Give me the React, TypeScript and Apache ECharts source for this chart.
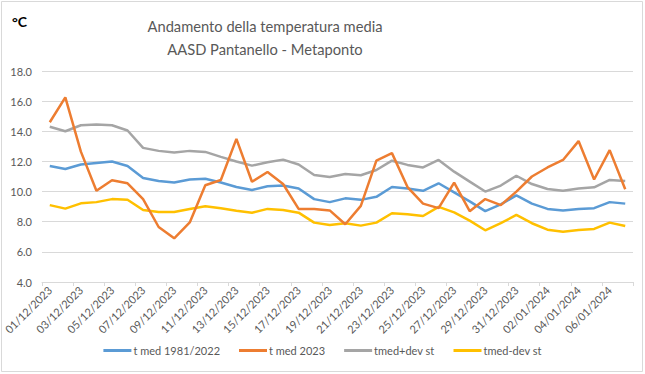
import React, { useEffect, useRef } from "react";
import * as echarts from "echarts";

const dates = [
  "01/12/2023","02/12/2023","03/12/2023","04/12/2023","05/12/2023","06/12/2023","07/12/2023","08/12/2023",
  "09/12/2023","10/12/2023","11/12/2023","12/12/2023","13/12/2023","14/12/2023","15/12/2023","16/12/2023",
  "17/12/2023","18/12/2023","19/12/2023","20/12/2023","21/12/2023","22/12/2023","23/12/2023","24/12/2023",
  "25/12/2023","26/12/2023","27/12/2023","28/12/2023","29/12/2023","30/12/2023","31/12/2023","01/01/2024",
  "02/01/2024","03/01/2024","04/01/2024","05/01/2024","06/01/2024","07/01/2024",
];

const tMedClim = [
  11.7, 11.5, 11.8, 11.9, 12.0, 11.7, 10.9, 10.7, 10.6, 10.8, 10.85, 10.6, 10.3, 10.1, 10.35, 10.4,
  10.2, 9.5, 9.3, 9.55, 9.45, 9.65, 10.3, 10.2, 10.05, 10.55, 9.95, 9.35, 8.7, 9.15, 9.75, 9.2,
  8.85, 8.75, 8.85, 8.9, 9.3, 9.2,
];

const tMed2023 = [
  14.6, 16.25, 12.65, 10.05, 10.75, 10.55, 9.5, 7.65, 6.9, 7.95, 10.42, 10.77, 13.5, 10.65, 11.3, 10.5,
  8.85, 8.85, 8.75, 7.83, 9.05, 12.05, 12.55, 10.3, 9.2, 8.9, 10.6, 8.7, 9.5, 9.1, 10.0, 11.0,
  11.6, 12.1, 13.35, 10.8, 12.75, 10.15,
];

const tPlusDev = [
  14.3, 14.0, 14.4, 14.45, 14.4, 14.05, 12.9, 12.7, 12.6, 12.7, 12.63, 12.3, 12.0, 11.72, 11.94, 12.12,
  11.8, 11.1, 10.97, 11.17, 11.08, 11.43, 12.05, 11.77, 11.6, 12.1, 11.32, 10.66, 10.0, 10.4, 11.05, 10.5,
  10.17, 10.06, 10.2, 10.28, 10.77, 10.7,
];

const tMinusDev = [
  9.1, 8.87, 9.22, 9.3, 9.5, 9.46, 8.78, 8.65, 8.65, 8.85, 9.02, 8.9, 8.73, 8.6, 8.85, 8.78,
  8.6, 7.94, 7.78, 7.9, 7.74, 7.94, 8.56, 8.5, 8.38, 8.98, 8.62, 8.07, 7.43, 7.9, 8.45, 7.9,
  7.47, 7.34, 7.45, 7.52, 7.94, 7.72,
];

const seriesNames = ["t med 1981/2022", "t med 2023", "tmed+dev st", "tmed-dev st"];
const seriesColors = ["#5b9bd5", "#ed7d31", "#a5a5a5", "#ffc000"];

const FONT = "Lato, 'Noto Sans', sans-serif";

export default function App() {
  const ref = useRef<HTMLDivElement>(null);

  useEffect(() => {
    if (!ref.current) return;
    const chart = echarts.init(ref.current, undefined, { renderer: "svg" });
    const data = [tMedClim, tMed2023, tPlusDev, tMinusDev];
    chart.setOption({
      animation: false,
      backgroundColor: "#ffffff",
      textStyle: { fontFamily: FONT },
      title: {
        text: "Andamento della temperatura media\nAASD Pantanello - Metaponto",
        left: 260,
        top: 9,
        textAlign: "center",
        textStyle: {
          fontFamily: FONT,
          fontSize: 14.7,
          fontWeight: "normal",
          color: "#595959",
          lineHeight: 23,
        },
      },
      graphic: [
        {
          type: "rect",
          shape: { x: 1.5, y: 1.5, width: 641, height: 370 },
          style: { fill: "none", stroke: "#d9d9d9", lineWidth: 1 },
          silent: true,
        },
        {
          type: "text",
          left: 12,
          top: 14,
          style: {
            text: "°C",
            fontFamily: FONT,
            fontSize: 14,
            fontWeight: "bold",
            fill: "#000000",
          },
        },
      ],
      legend: {
        bottom: 13,
        left: "center",
        itemWidth: 28,
        itemHeight: 3,
        itemGap: 19,
        icon: "rect",
        textStyle: { fontFamily: FONT, fontSize: 11, color: "#595959", padding: [0, 0, 0, -3] },
        data: seriesNames,
      },
      grid: { left: 42, right: 12, top: 71, bottom: 92, containLabel: false },
      xAxis: {
        type: "category",
        data: dates,
        boundaryGap: true,
        axisLine: { show: true, lineStyle: { color: "#d9d9d9", width: 1 } },
        axisTick: { show: true, interval: 1, length: 4, lineStyle: { color: "#d9d9d9" } },
        axisLabel: {
          interval: 1,
          rotate: 45,
          fontFamily: FONT,
          fontSize: 11,
          color: "#595959",
          margin: 6,
        },
      },
      yAxis: {
        type: "value",
        min: 4,
        max: 18,
        interval: 2,
        axisLine: { show: false },
        axisTick: { show: false },
        splitLine: { lineStyle: { color: "#d9d9d9", width: 1 } },
        axisLabel: {
          fontFamily: FONT,
          fontSize: 11,
          color: "#595959",
          margin: 10,
          formatter: (v: number) => v.toFixed(1),
        },
      },
      series: seriesNames.map((name, i) => ({
        name,
        type: "line",
        data: data[i],
        symbol: "none",
        lineStyle: { color: seriesColors[i], width: 2.5 },
        itemStyle: { color: seriesColors[i] },
        z: i === 1 ? 5 : 2,
      })),
    });
    return () => chart.dispose();
  }, []);

  return (
    <div
      ref={ref}
      style={{ position: "fixed", left: 0, top: 0, width: 645, height: 374 }}
    />
  );
}
